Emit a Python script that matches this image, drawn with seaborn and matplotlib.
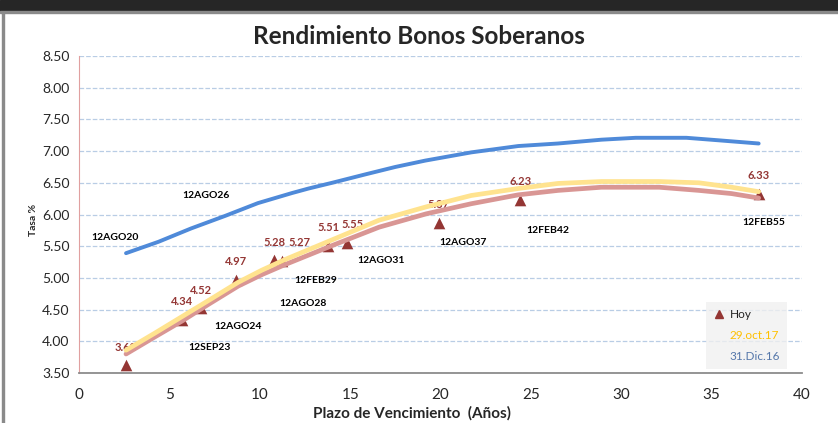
import matplotlib
matplotlib.use('Agg')
import matplotlib.pyplot as plt
import seaborn as sns
import pandas as pd
from matplotlib.lines import Line2D
from matplotlib.patches import Rectangle
from matplotlib.ticker import FormatStrFormatter

# Hoy: bonos soberanos (plazo en años, tasa %)
plazo_hoy = [2.6, 5.7, 6.75, 8.7, 10.8, 11.25, 13.8, 14.8, 19.9, 24.4, 37.6]
tasa_hoy = [3.62, 4.34, 4.52, 4.97, 5.28, 5.27, 5.51, 5.55, 5.87, 6.23, 6.33]
bonos = ['12AGO20', '12SEP23', '12AGO24', '12AGO26', '12AGO28', '12FEB29',
         '12AGO31', '', '12AGO37', '12FEB42', '12FEB55']

# curva 31.Dic.16
plazo_dic16 = [2.6, 4.4, 6.2, 8.1, 9.9, 11.8, 12.7, 14.0, 15.8, 17.5, 19.15, 21.7,
               24.3, 26.5, 28.9, 30.8, 33.6, 35.4, 37.6]
tasa_dic16 = [5.39, 5.57, 5.78, 5.98, 6.18, 6.34, 6.41, 6.50, 6.63, 6.75, 6.85, 6.98,
              7.08, 7.12, 7.18, 7.21, 7.21, 7.17, 7.12]

# curvas 29.oct.17 y ajuste de hoy
plazo_curva = [2.6, 4.2, 5.7, 7.2, 8.8, 10.1, 11.4, 14.0, 16.6, 19.2, 21.7,
               24.3, 26.5, 28.9, 32.1, 34.3, 36.1, 37.6]
tasa_oct17 = [3.86, 4.13, 4.39, 4.65, 4.93, 5.12, 5.29, 5.60, 5.91, 6.12, 6.30,
              6.41, 6.49, 6.52, 6.52, 6.50, 6.43, 6.36]
tasa_ajuste = [3.80, 4.07, 4.32, 4.59, 4.87, 5.05, 5.21, 5.51, 5.80, 6.01, 6.17,
               6.31, 6.38, 6.43, 6.43, 6.38, 6.33, 6.26]

# donde van los nombres de los bonos (como en el excel original)
pos_bonos = {
    '12AGO20': (1.98, 5.63), '12SEP23': (7.24, 3.90), '12AGO24': (8.81, 4.24),
    '12AGO26': (7.04, 6.30), '12AGO28': (12.37, 4.60), '12FEB29': (13.11, 4.96),
    '12AGO31': (16.73, 5.28), '12AGO37': (21.27, 5.56), '12FEB42': (25.93, 5.74),
    '12FEB55': (37.86, 5.88),
}

ROJO = '#943634'
AZUL = '#4F8AD9'
AMARILLO = '#FFE38F'
ROSA = '#D99694'

sns.set_style('white')
plt.rcParams['font.family'] = ['Lato', 'DejaVu Sans']

df_hoy = pd.DataFrame({'plazo': plazo_hoy, 'tasa': tasa_hoy, 'bono': bonos})
df_dic = pd.DataFrame({'plazo': plazo_dic16, 'tasa': tasa_dic16})
df_curva = pd.DataFrame({'plazo': plazo_curva, 'oct17': tasa_oct17, 'ajuste': tasa_ajuste})

fig = plt.figure(figsize=(8.38, 4.23), dpi=100)
ax = fig.add_axes([0.0943, 0.1182, 0.8628, 0.7494])

sns.scatterplot(data=df_hoy, x='plazo', y='tasa', marker='^', s=70, color=ROJO,
                edgecolor=ROJO, linewidth=0, ax=ax, zorder=3, legend=False)
estilo = dict(solid_joinstyle='round', solid_capstyle='round')
sns.lineplot(data=df_curva, x='plazo', y='ajuste', color=ROSA, lw=3.4, ax=ax, zorder=4, **estilo)
sns.lineplot(data=df_curva, x='plazo', y='oct17', color=AMARILLO, lw=3.4, ax=ax, zorder=5, **estilo)
sns.lineplot(data=df_dic, x='plazo', y='tasa', color=AZUL, lw=2.8, ax=ax, zorder=5, **estilo)

# etiquetas de valor encima de cada triangulo
desplaza = {5.27: 12, 5.55: 4}
for _, r in df_hoy.iterrows():
    dx = desplaza.get(r['tasa'], 0)
    ax.annotate(f"{r['tasa']:.2f}", (r['plazo'], r['tasa']), xytext=(dx, 13),
                textcoords='offset points', ha='center', va='center',
                fontsize=8, fontweight='bold', color=ROJO, zorder=2)

for nombre, (bx, by) in pos_bonos.items():
    ax.text(bx, by, nombre, ha='center', va='center', fontsize=7.5,
            fontweight='bold', color='black')

ax.set_xlim(0, 40)
ax.set_ylim(3.5, 8.5)
ax.set_xticks(range(0, 41, 5))
ax.set_yticks([3.5 + 0.5 * i for i in range(11)])
ax.yaxis.set_major_formatter(FormatStrFormatter('%.2f'))
ax.tick_params(axis='x', length=0, pad=11, labelsize=11)
ax.tick_params(axis='y', length=0, pad=7, labelsize=10)
ax.grid(axis='y', linestyle='--', color='#B9CDE5', lw=0.9)
ax.set_axisbelow(True)
ax.set_xlabel('')
ax.set_ylabel('')
for s in ['top', 'right']:
    ax.spines[s].set_visible(False)
ax.spines['left'].set_color('#E0A0A0')
ax.spines['bottom'].set_color('#8C8C8C')
ax.spines['bottom'].set_linewidth(1.3)

handles = [
    Line2D([], [], marker='^', color=ROJO, linestyle='none', markersize=6),
    Line2D([], [], color='none'),
    Line2D([], [], color='none'),
]
leg = ax.legend(handles, ['Hoy', '29.oct.17', '31.Dic.16'], loc='lower left',
                bbox_to_anchor=(0.867, 0.012), frameon=True, fancybox=False,
                fontsize=8.5, labelcolor=['#222222', '#FFC000', '#5577AA'],
                handlelength=1.0, handletextpad=0.4, labelspacing=0.85,
                borderpad=0.6, borderaxespad=0)
leg.get_frame().set_facecolor('#F0F0F0')
leg.get_frame().set_edgecolor('none')

fig.text(0.5, 1 - 37 / 423, 'Rendimiento Bonos Soberanos', ha='center', va='center',
         fontsize=17.5, fontweight='bold')
fig.text(0.492, 1 - 413 / 423, 'Plazo de Vencimiento  (Años)', ha='center', va='center',
         fontsize=11, fontweight='bold')
fig.text(33 / 838, 1 - 220 / 423, 'Tasa %', ha='center', va='center', rotation=90,
         fontsize=7.5, fontweight='bold')

# marco de la captura
fig.patches.append(Rectangle((0, 1 - 11 / 423), 1, 11 / 423, transform=fig.transFigure,
                             color='#262626', zorder=0))
fig.patches.append(Rectangle((0, 1 - 13 / 423), 1, 2 / 423, transform=fig.transFigure,
                             color='#8A8A8A', zorder=0))
fig.patches.append(Rectangle((2 / 838, 0), 2 / 838, 1 - 13 / 423, transform=fig.transFigure,
                             color='#8A8A8A', zorder=0))

fig.savefig('out.png', dpi=100)
